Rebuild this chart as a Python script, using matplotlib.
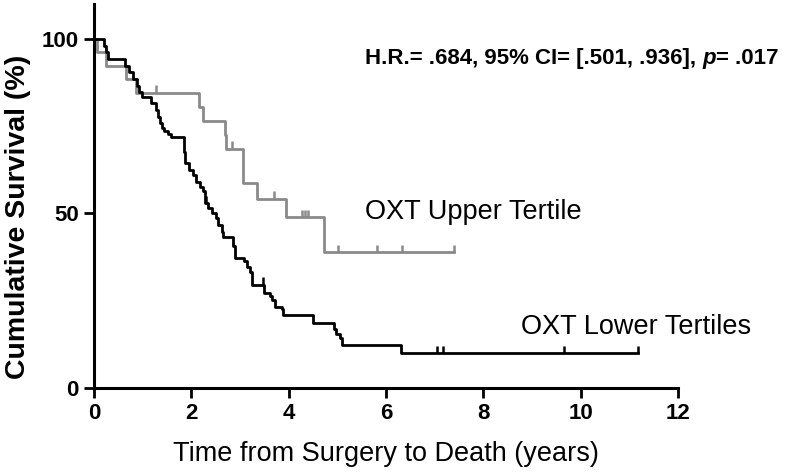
import matplotlib
matplotlib.use('Agg')
import matplotlib.pyplot as plt

plt.rcParams['font.family'] = ['Liberation Sans', 'DejaVu Sans']

# Kaplan-Meier steps (years, % surviving after the step)
upper_t = [0, 0.07, 0.24, 0.66, 0.86, 2.16, 2.24, 2.69, 2.72, 3.07, 3.34, 3.94, 4.72, 7.39]
upper_s = [100, 96.2, 92.3, 88.5, 84.6, 80.6, 76.5, 72.5, 68.5, 58.8, 54.2, 48.9, 38.9, 38.9]
upper_cens_t = [1.27, 2.83, 3.70, 4.27, 4.33, 4.39, 5.02, 5.82, 6.33, 7.39]
upper_cens_s = [84.6, 68.5, 54.2, 48.9, 48.9, 48.9, 38.9, 38.9, 38.9, 38.9]

lower_t = [0, 0.20, 0.24, 0.28, 0.64, 0.72, 0.80, 0.88, 0.93, 0.98,
           1.18, 1.27, 1.31, 1.35, 1.39, 1.44, 1.52, 1.58,
           1.84, 1.87, 1.95, 2.04, 2.10, 2.18, 2.24, 2.28, 2.35, 2.42, 2.50,
           2.55, 2.62, 2.65, 2.86, 2.90, 3.08, 3.14, 3.20, 3.24,
           3.49, 3.62, 3.66, 3.72, 3.87, 3.89, 4.50, 4.94, 4.98, 5.05, 5.09,
           6.30, 11.18]
lower_s = [100, 98.1, 96.2, 94.2, 92.3, 90.4, 88.5, 86.6, 84.9, 83.5,
           81.6, 79.7, 77.7, 75.8, 74.4, 73.5, 72.8, 72.0,
           67.5, 64.4, 62.5, 61.0, 59.1, 57.7, 56.3, 52.9, 51.5, 50.0, 48.6,
           46.7, 44.8, 43.2, 40.8, 37.1, 36.3, 34.8, 33.3, 29.5,
           27.3, 26.3, 25.2, 23.3, 22.5, 20.9, 18.5, 16.8, 15.6, 14.3, 12.3,
           9.9, 9.9]
lower_cens_t = [2.30, 3.47, 7.04, 7.17, 9.66, 11.18]
lower_cens_s = [52.9, 29.5, 9.9, 9.9, 9.9, 9.9]

x_ticks = [0, 2, 4, 6, 8, 10, 12]
y_ticks = [0, 50, 100]

fig = plt.figure(figsize=(8, 4.72), dpi=100)
ax = fig.add_axes([94 / 800, 84 / 472, 584 / 800, 384 / 472])

gray = '#8a8a8a'
ax.step(upper_t, upper_s, where='post', color=gray, lw=2.0, clip_on=False)
ax.step(lower_t, lower_s, where='post', color='black', lw=2.0, clip_on=False)
ax.vlines(upper_cens_t, upper_cens_s, [s + 2.2 for s in upper_cens_s], color=gray, lw=1.8)
ax.vlines(lower_cens_t, lower_cens_s, [s + 2.2 for s in lower_cens_s], color='black', lw=1.8)

ax.text(5.56, 50.5, 'OXT Upper Tertile', fontsize=19.5, va='center', ha='left')
ax.text(8.77, 17.5, 'OXT Lower Tertiles', fontsize=19.5, va='center', ha='left')

# hazard ratio line, with an italic p
t1 = fig.text(365 / 800, 1 - 69 / 472, 'H.R.= .684, 95% CI= [.501, .936], ',
              fontsize=16, fontweight='bold', va='bottom', ha='left')
t2 = ax.annotate('p', xy=(1, 0), xycoords=t1, va='bottom', ha='left',
                 fontsize=16, fontweight='bold', fontstyle='italic')
ax.annotate('= .017', xy=(1, 0), xycoords=t2, va='bottom', ha='left',
            fontsize=16, fontweight='bold')

ax.set_xlim(0, 12)
ax.set_ylim(0, 110)
ax.set_xticks(x_ticks)
ax.set_yticks(y_ticks)
ax.tick_params(width=2, length=7, labelsize=16, pad=4)
for lab in ax.get_xticklabels() + ax.get_yticklabels():
    lab.set_fontweight('bold')
for side in ['top', 'right']:
    ax.spines[side].set_visible(False)
for side in ['left', 'bottom']:
    ax.spines[side].set_linewidth(2.2)

ax.set_xlabel('Time from Surgery to Death (years)', fontsize=19.5, labelpad=12)
ax.set_ylabel('Cumulative Survival (%)', fontsize=20.5, fontweight='bold')
ax.yaxis.set_label_coords(-0.108, 0.445)

plt.savefig('out.png', dpi=100)
